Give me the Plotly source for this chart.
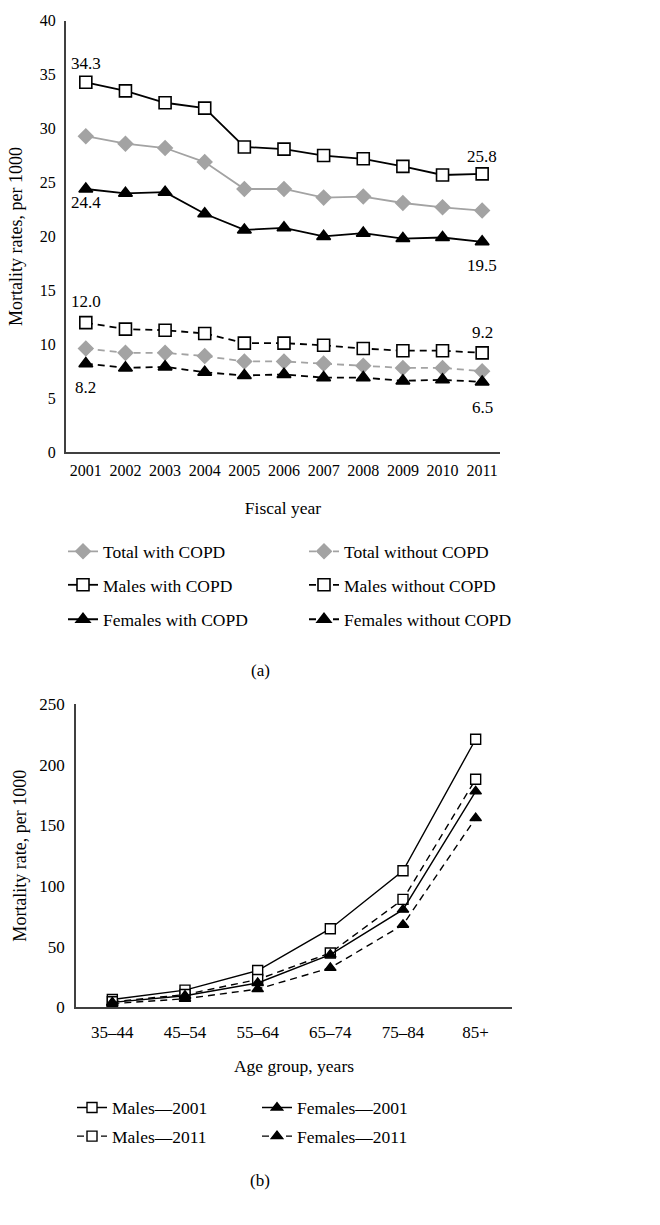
import plotly.graph_objects as go

# ---------------- data: panel (a) ----------------
years = ["2001", "2002", "2003", "2004", "2005", "2006", "2007", "2008", "2009", "2010", "2011"]
total_with = [29.3, 28.6, 28.2, 26.9, 24.4, 24.4, 23.6, 23.7, 23.1, 22.7, 22.4]
males_with = [34.3, 33.5, 32.4, 31.9, 28.3, 28.1, 27.5, 27.2, 26.5, 25.7, 25.8]
females_with = [24.4, 24.0, 24.1, 22.1, 20.6, 20.8, 20.0, 20.3, 19.8, 19.9, 19.5]
total_without = [9.6, 9.2, 9.2, 8.9, 8.4, 8.4, 8.2, 8.0, 7.8, 7.8, 7.5]
males_without = [12.0, 11.4, 11.3, 11.0, 10.1, 10.1, 9.9, 9.6, 9.4, 9.4, 9.2]
females_without = [8.2, 7.8, 7.9, 7.4, 7.1, 7.2, 6.9, 6.9, 6.6, 6.7, 6.5]

# ---------------- data: panel (b) ----------------
age_groups = ["35–44", "45–54", "55–64", "65–74", "75–84", "85+"]
males_2001 = [6.4, 14.1, 30.3, 64.8, 112.5, 221]
males_2011 = [4.5, 10.5, 22.9, 44.8, 89, 188]
females_2001 = [4.0, 9.5, 20.0, 43.4, 80.5, 178]
females_2011 = [3.0, 7.0, 15.0, 32.5, 68, 156]

FONT = "Liberation Serif"
GRAY = "#a3a3a3"
BLACK = "#000000"
AXIS = "#404040"
DASH = "7px,5px"
FS = 17
FL = 17.5

fig = go.Figure()

top_series = [
    ("Total with COPD", total_with, GRAY, "solid", "diamond", GRAY, 11, "legend"),
    ("Males with COPD", males_with, BLACK, "solid", "square", "white", 12, "legend2"),
    ("Females with COPD", females_with, BLACK, "solid", "triangle-up", BLACK, 12, "legend3"),
    ("Total without COPD", total_without, GRAY, DASH, "diamond", GRAY, 11, "legend4"),
    ("Males without COPD", males_without, BLACK, DASH, "square", "white", 12, "legend5"),
    ("Females without COPD", females_without, BLACK, DASH, "triangle-up", BLACK, 12, "legend6"),
]
for name, vals, col, dash, sym, fill, size, leg in top_series:
    fig.add_trace(go.Scatter(
        x=years, y=vals, name=name, mode="lines+markers",
        line=dict(color=col, width=1.8, dash=dash),
        marker=dict(symbol=sym, size=size, color=fill,
                    line=dict(color=col if fill != "white" else BLACK, width=1.6)),
        xaxis="x", yaxis="y", legend=leg, cliponaxis=False,
    ))

bottom_series = [
    ("Males—2001", males_2001, "solid", "square", "white", "legend7"),
    ("Males—2011", males_2011, DASH, "square", "white", "legend8"),
    ("Females—2001", females_2001, "solid", "triangle-up", BLACK, "legend9"),
    ("Females—2011", females_2011, DASH, "triangle-up", BLACK, "legend10"),
]
for name, vals, dash, sym, fill, leg in bottom_series:
    fig.add_trace(go.Scatter(
        x=age_groups, y=vals, name=name, mode="lines+markers",
        line=dict(color=BLACK, width=1.4, dash=dash),
        marker=dict(symbol=sym, size=10, color=fill, line=dict(color=BLACK, width=1.4)),
        xaxis="x2", yaxis="y2", legend=leg, cliponaxis=False,
    ))

# value labels for first / last points (x given as category index)
last = len(years) - 1
label_specs = [
    (males_with, 0, -19), (males_with, last, -17),
    (females_with, 0, 14), (females_with, last, 24),
    (males_without, 0, -21), (males_without, last, -20),
    (females_without, 0, 24), (females_without, last, 26),
]
for vals, idx, dy in label_specs:
    fig.add_annotation(x=idx, y=vals[idx], xref="x", yref="y",
                       text=f"{vals[idx]:.1f}", showarrow=False, yshift=-dy,
                       font=dict(family=FONT, size=FS, color=BLACK))

H = 1225.0
W = 660.0

def py(pix):
    return 1 - pix / H

fig.add_annotation(x=260 / W, y=py(672), xref="paper", yref="paper", text="(a)",
                   showarrow=False, font=dict(family=FONT, size=FS, color=BLACK))
fig.add_annotation(x=260 / W, y=py(1202), xref="paper", yref="paper", text="(b)",
                   showarrow=False, font=dict(family=FONT, size=FS, color=BLACK))

axis_common = dict(showgrid=False, zeroline=False, ticks="", showline=True, linecolor=AXIS)

legend_common = dict(font=dict(family=FONT, size=FL, color=BLACK), bgcolor="rgba(0,0,0,0)",
                     xanchor="left", yanchor="middle", borderwidth=0)

legend_pos = {
    "legend": (63, 551), "legend2": (63, 585), "legend3": (63, 620),
    "legend4": (304, 551), "legend5": (304, 585), "legend6": (304, 620),
    "legend7": (72, 1116), "legend8": (72, 1145),
    "legend9": (257, 1116), "legend10": (257, 1145),
}

layout = dict(
    width=660, height=1225,
    margin=dict(l=0, r=0, t=0, b=0),
    paper_bgcolor="white", plot_bgcolor="white",
    font=dict(family=FONT, color=BLACK),
    showlegend=True,
    xaxis=dict(domain=[66 / W, 500 / W], type="category", range=[-0.5, 10.45],
               anchor="y", linewidth=2, ticklabelstandoff=3,
               tickfont=dict(family=FONT, size=16, color=BLACK),
               title=dict(text="Fiscal year", font=dict(family=FONT, size=FL), standoff=24),
               **axis_common),
    yaxis=dict(domain=[py(450), py(12)], range=[0, 40], dtick=5, anchor="x", linewidth=2,
               ticklabelstandoff=5,
               tickfont=dict(family=FONT, size=16, color=BLACK),
               title=dict(text="Mortality rates, per 1000", font=dict(family=FONT, size=18), standoff=12),
               **axis_common),
    xaxis2=dict(domain=[76 / W, 512 / W], type="category", range=[-0.5, 5.5],
                anchor="y2", linewidth=1.6, ticklabelstandoff=9,
                tickfont=dict(family=FONT, size=FS, color=BLACK),
                title=dict(text="Age group, years", font=dict(family=FONT, size=FL), standoff=18),
                **axis_common),
    yaxis2=dict(domain=[py(1014), py(706)], range=[0, 250], dtick=50, anchor="x2", linewidth=1.6,
                ticklabelstandoff=6,
                tickfont=dict(family=FONT, size=FS, color=BLACK),
                title=dict(text="Mortality rate, per 1000", font=dict(family=FONT, size=18), standoff=8),
                **axis_common),
)
for key, (lx, ly) in legend_pos.items():
    layout[key] = dict(x=lx / W, y=py(ly), **legend_common)

fig.update_layout(**layout)
fig.write_html("out.html", config={"displayModeBar": False},
               post_script="document.body.style.margin='0px';")
